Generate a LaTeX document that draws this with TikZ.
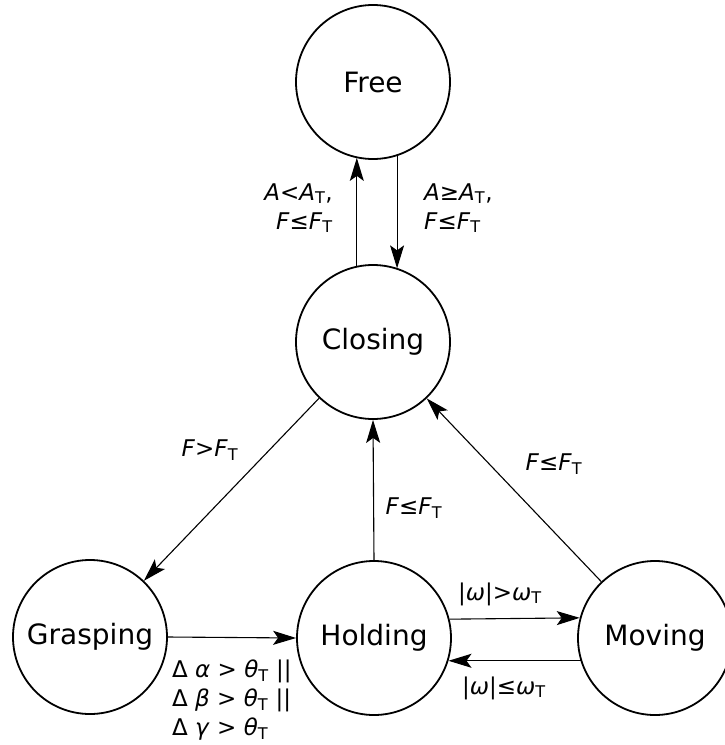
\documentclass[tikz,border=0pt]{standalone}
\usepackage{fontspec}
\setmainfont{DejaVu Sans}
\usetikzlibrary{arrows.meta}
\newcommand{\thr}[1]{\textsubscript{#1}}

\begin{document}
\begin{tikzpicture}[x=1pt,y=-1pt,
  state/.style={circle, draw, line width=1.8pt, minimum size=154pt, inner sep=0pt,
    font=\fontsize{28}{34}\selectfont},
  trans/.style={line width=1.1pt, -{Stealth[length=23pt,width=14pt,inset=5pt]}},
  cond/.style={font=\fontsize{23}{29}\selectfont, inner sep=0pt}]
\useasboundingbox (0,0) rectangle (724,745);

% states
\node[state] (free)     at (373,82)  {Free};
\node[state] (closing)  at (373,342) {Closing};
\node[state] (grasping) at (90,637)  {Grasping};
\node[state] (holding)  at (374,638) {Holding};
\node[state] (moving)   at (655,638) {Moving};

% transitions
\draw[trans] (closing.102.75) -- (closing.102.75 |- free.257.25);
\draw[trans] (free.288.16) -- (free.288.16 |- closing.71.84);
\draw[trans] (closing) -- (grasping);
\draw[trans] (holding.north) -- (closing.south);
\draw[trans] (moving) -- (closing);
\draw[trans] (grasping.east) -- (holding.west);
\draw[trans] (holding.14.9) -- (moving.165.1);
\draw[trans] (moving.197.15) -- (holding.-17.15);

% conditions
\node[cond, align=right, anchor=east] (c1) at (333,208)
  {\textit{A}<\textit{A}\thr{T},\\\textit{F}≤\textit{F}\thr{T}};
\node[cond, align=left, anchor=west] (c2) at (424,208)
  {\textit{A}≥\textit{A}\thr{T},\\\textit{F}≤\textit{F}\thr{T}};
\node[cond] (c3) at (210,450) {\textit{F}>\textit{F}\thr{T}};
\node[cond] (c4) at (414,508) {\textit{F}≤\textit{F}\thr{T}};
\node[cond] (c5) at (554,464) {\textit{F}≤\textit{F}\thr{T}};
\node[cond] (c6) at (500,594) {|\textit{ω}|>\textit{ω}\thr{T}};
\node[cond] (c7) at (504,688) {|\textit{ω}|≤\textit{ω}\thr{T}};
\node[cond, align=left, anchor=west] (c8) at (172,700)
  {Δ \textit{α} > \textit{θ}\thr{T} ||\\Δ \textit{β} > \textit{θ}\thr{T} ||\\Δ \textit{γ} > \textit{θ}\thr{T}};
\end{tikzpicture}
\end{document}
